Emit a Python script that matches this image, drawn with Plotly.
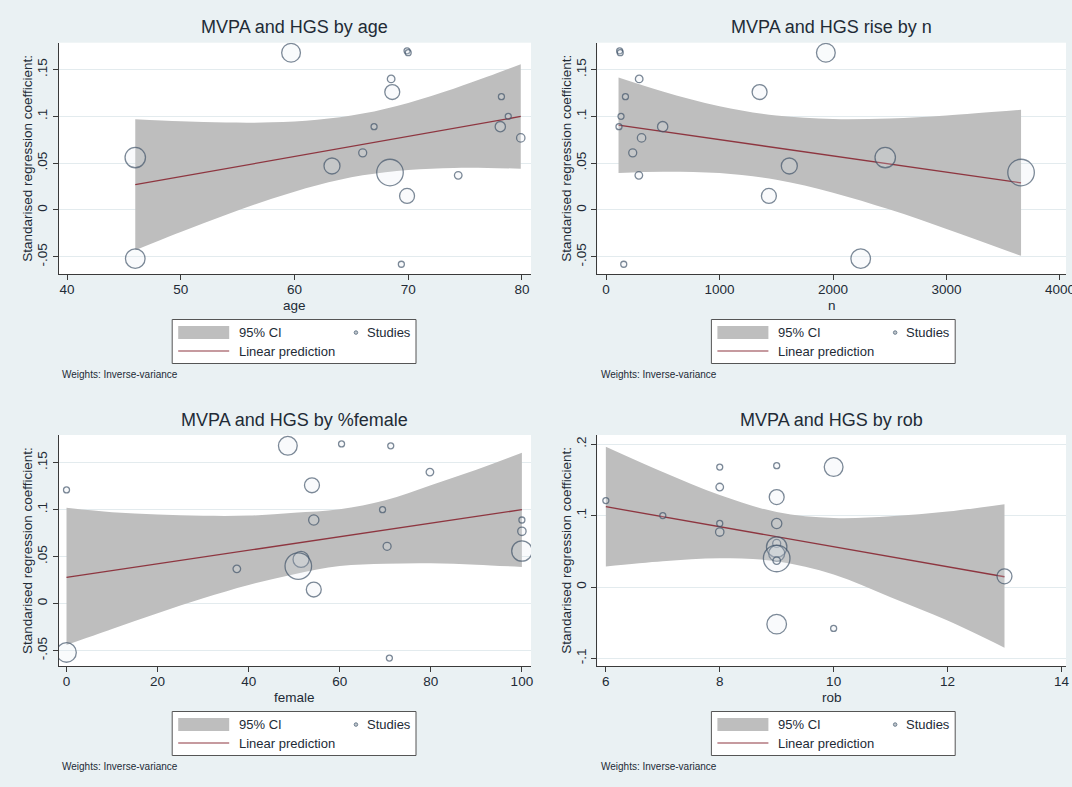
import plotly.graph_objects as go

# ---------------- data ----------------
coef   = [0.168, 0.170, 0.168, 0.140, 0.126, 0.121, 0.100, 0.089, 0.089,
          0.077, 0.061, 0.056, 0.047, 0.040, 0.037, 0.015, -0.052, -0.058]
age    = [59.7, 69.9, 70.0, 68.5, 68.6, 78.2, 78.8, 67.0, 78.1,
          79.9, 66.0, 46.0, 63.3, 68.4, 74.4, 69.9, 46.0, 69.4]
n      = [1937, 120, 125, 292, 1353, 171, 132, 114, 499,
          313, 235, 2460, 1615, 3657, 289, 1435, 2244, 156]
female = [48.6, 60.4, 71.2, 79.8, 53.9, 0, 69.4, 100, 54.3,
          100, 70.4, 100, 51.5, 50.9, 37.4, 54.3, 0, 70.9]
rob    = [10, 9, 8, 8, 9, 6, 7, 8, 9, 8, 9, 9, 9, 9, 9, 13, 9, 10]
weight = [11, 1, 1, 1.8, 7, 1, 1, 1, 3.3, 2.2, 2, 13, 8, 22, 1.8, 7, 12, 1]

# 95% CI band edges and linear prediction, read at several x positions
age_grid  = [46, 50, 54, 58, 62, 66, 70, 74, 77, 79.9]
age_upper = [0.097, 0.0948, 0.0934, 0.0936, 0.0963, 0.103, 0.1144, 0.1295, 0.1425, 0.1557]
age_lower = [-0.043, -0.0236, -0.005, 0.012, 0.0265, 0.037, 0.0428, 0.0449, 0.0449, 0.0441]
age_fit_x = [46, 79.9]
age_fit_y = [0.027, 0.0999]

n_grid  = [110, 500, 1000, 1500, 2000, 2500, 3000, 3657]
n_upper = [0.1416, 0.1267, 0.1108, 0.1008, 0.0971, 0.0978, 0.1010, 0.1070]
n_lower = [0.0396, 0.0409, 0.0394, 0.0322, 0.0185, 0.0004, -0.0202, -0.0490]
n_fit_x = [110, 3657]
n_fit_y = [0.0906, 0.029]

fem_grid  = [0, 10, 20, 30, 40, 50, 60, 70, 80, 90, 100]
fem_upper = [0.102, 0.0974, 0.095, 0.0935, 0.0937, 0.0967, 0.1005, 0.110, 0.126, 0.1425, 0.1606]
fem_lower = [-0.044, -0.027, -0.0102, 0.0057, 0.0199, 0.0313, 0.040, 0.0425, 0.043, 0.0415, 0.039]
fem_fit_x = [0, 100]
fem_fit_y = [0.028, 0.100]

rob_grid  = [6, 7, 8, 9, 10, 11, 12, 13]
rob_upper = [0.1964, 0.161, 0.1288, 0.105, 0.0965, 0.099, 0.1057, 0.116]
rob_lower = [0.0286, 0.036, 0.0402, 0.036, 0.0175, -0.0142, -0.047, -0.085]
rob_fit_x = [6, 13]
rob_fit_y = [0.1125, 0.0144]

titles = ["MVPA and HGS by age", "MVPA and HGS rise by n",
          "MVPA and HGS by %female", "MVPA and HGS by rob"]
xtitles = ["age", "n", "female", "rob"]
xticks = [[40, 50, 60, 70, 80], [0, 1000, 2000, 3000, 4000],
          [0, 20, 40, 60, 80, 100], [6, 8, 10, 12, 14]]
yticks_a = [-0.05, 0, 0.05, 0.1, 0.15]
yticks_a_text = ["-.05", "0", ".05", ".1", ".15"]
yticks_b = [-0.1, 0, 0.1, 0.2]
yticks_b_text = ["-.1", "0", ".1", ".2"]
ytitle = "Standarised regression coefficient:"
note = "Weights: Inverse-variance"
legend_labels = ["95% CI", "Studies", "Linear prediction"]

# ---------------- layout helpers ----------------
W, H = 1072, 787
def PX(px): return px / W
def PY(py): return 1 - py / H

FONT = "Liberation Sans, Arial, sans-serif"
BG = "#EAF1F3"
BAND = "#BEBEBE"
FITC = "#8E3640"
MK = "#44576C"
TXT = "#222B36"
AXC = "#3A3A3A"
GRID = "#E3EBEE"

panels = [
    dict(x=age, grid=age_grid, up=age_upper, lo=age_lower, fx=age_fit_x, fy=age_fit_y,
         box=(58.5, 531, 42.7, 274), xr=[39.25, 80.8], yr=[-0.0684, 0.1787],
         yt=yticks_a, ytt=yticks_a_text),
    dict(x=n, grid=n_grid, up=n_upper, lo=n_lower, fx=n_fit_x, fy=n_fit_y,
         box=(597.3, 1066, 42.7, 274), xr=[-77, 4053], yr=[-0.0684, 0.1787],
         yt=yticks_a, ytt=yticks_a_text),
    dict(x=female, grid=fem_grid, up=fem_upper, lo=fem_lower, fx=fem_fit_x, fy=fem_fit_y,
         box=(58.5, 531, 435, 666), xr=[-1.76, 102.0], yr=[-0.0664, 0.1795],
         yt=yticks_a, ytt=yticks_a_text),
    dict(x=rob, grid=rob_grid, up=rob_upper, lo=rob_lower, fx=rob_fit_x, fy=rob_fit_y,
         box=(597.3, 1066, 435, 666), xr=[5.85, 14.08], yr=[-0.1106, 0.2129],
         yt=yticks_b, ytt=yticks_b_text),
]

fig = go.Figure()
shapes = []
annotations = []
layout_axes = {}

for i, p in enumerate(panels):
    k = i + 1
    xa = "x" if k == 1 else f"x{k}"
    ya = "y" if k == 1 else f"y{k}"
    common = dict(xaxis=xa, yaxis=ya, showlegend=False, hoverinfo="skip")
    fig.add_trace(go.Scatter(x=p["grid"], y=p["lo"], mode="lines",
                             line=dict(width=0, shape="spline", color=BAND), **common))
    fig.add_trace(go.Scatter(x=p["grid"], y=p["up"], mode="lines", fill="tonexty",
                             fillcolor=BAND, line=dict(width=0, shape="spline", color=BAND),
                             **common))
    fig.add_trace(go.Scatter(x=p["fx"], y=p["fy"], mode="lines",
                             line=dict(color=FITC, width=1.3), **common))
    fig.add_trace(go.Scatter(x=p["x"], y=coef, mode="markers",
                             marker=dict(size=weight, sizemode="area", sizeref=1 / 16,
                                         sizemin=3, symbol="circle",
                                         color="rgba(228,236,242,0.3)",
                                         line=dict(color=MK, width=1.3)),
                             **common))

    l, r, t, b = p["box"]
    xkey = "xaxis" if k == 1 else f"xaxis{k}"
    ykey = "yaxis" if k == 1 else f"yaxis{k}"
    layout_axes[xkey] = dict(
        domain=[PX(l), PX(r)], range=p["xr"], anchor=ya, showgrid=False, zeroline=False,
        showline=True, linecolor=AXC, linewidth=1, ticks="outside", ticklen=5,
        tickcolor=AXC, tickwidth=1, tickvals=xticks[i], automargin=False,
        ticklabeloverflow="allow", ticklabelstandoff=-2,
        tickfont=dict(family=FONT, size=13.5, color=TXT))
    layout_axes[ykey] = dict(
        domain=[PY(b), PY(t)], range=p["yr"], anchor=xa, showgrid=True, gridcolor=GRID,
        gridwidth=1, zeroline=False, showline=True, linecolor=AXC, linewidth=1,
        ticks="outside", ticklen=5, tickcolor=AXC, tickwidth=1,
        tickvals=p["yt"], ticktext=p["ytt"], tickangle=-90, automargin=False,
        tickfont=dict(family=FONT, size=13.5, color=TXT))

    cx = (l + r) / 2
    cy = (t + b) / 2
    # panel title
    annotations.append(dict(text=titles[i], x=PX(cx), y=PY(t - 15.5), xref="paper", yref="paper",
                            showarrow=False, xanchor="center", yanchor="middle",
                            font=dict(family=FONT, size=18, color=TXT)))
    # y-axis title
    annotations.append(dict(text=ytitle, x=PX(l - 31), y=PY(cy), xref="paper", yref="paper",
                            showarrow=False, textangle=-90, xanchor="center", yanchor="middle",
                            font=dict(family=FONT, size=13.5, color=TXT)))
    # x-axis title
    annotations.append(dict(text=xtitles[i], x=PX(cx), y=PY(b + 31), xref="paper", yref="paper",
                            showarrow=False, xanchor="center", yanchor="middle",
                            font=dict(family=FONT, size=13.5, color=TXT)))

    # legend box
    bl = 172.2 if k in (1, 3) else 711.4
    bt = b + 45.5
    bw, bh = 243.8, 44
    shapes.append(dict(type="rect", xref="paper", yref="paper",
                       x0=PX(bl), x1=PX(bl + bw), y0=PY(bt + bh), y1=PY(bt),
                       fillcolor="white", line=dict(color="#555555", width=1)))
    shapes.append(dict(type="rect", xref="paper", yref="paper",
                       x0=PX(bl + 6), x1=PX(bl + 57), y0=PY(bt + 19.5), y1=PY(bt + 6.5),
                       fillcolor=BAND, line=dict(width=0)))
    shapes.append(dict(type="line", xref="paper", yref="paper",
                       x0=PX(bl + 6), x1=PX(bl + 57), y0=PY(bt + 31.5), y1=PY(bt + 31.5),
                       line=dict(color=FITC, width=1.2)))
    shapes.append(dict(type="circle", xref="paper", yref="paper",
                       x0=PX(bl + 182), x1=PX(bl + 185.5), y0=PY(bt + 14.8), y1=PY(bt + 11.3),
                       fillcolor="rgba(150,160,170,0.6)", line=dict(color="#6A7B8C", width=1)))
    annotations.append(dict(text=legend_labels[0], x=PX(bl + 65), y=PY(bt + 13), xref="paper",
                            yref="paper", showarrow=False, xanchor="left", yanchor="middle",
                            font=dict(family=FONT, size=13, color=TXT)))
    annotations.append(dict(text=legend_labels[1], x=PX(bl + bw - 3), y=PY(bt + 13), xref="paper",
                            yref="paper", showarrow=False, xanchor="right", yanchor="middle",
                            font=dict(family=FONT, size=13, color=TXT)))
    annotations.append(dict(text=legend_labels[2], x=PX(bl + 65), y=PY(bt + 31.5), xref="paper",
                            yref="paper", showarrow=False, xanchor="left", yanchor="middle",
                            font=dict(family=FONT, size=13, color=TXT)))
    # note
    annotations.append(dict(text=note, x=PX(l + 1.5), y=PY(b + 100.5), xref="paper",
                            yref="paper", showarrow=False, xanchor="left", yanchor="middle",
                            font=dict(family=FONT, size=10, color=TXT)))

fig.update_layout(
    width=W, height=H, margin=dict(l=0, r=0, t=0, b=0),
    paper_bgcolor=BG, plot_bgcolor="white", template="none",
    font=dict(family=FONT, color=TXT), showlegend=False,
    shapes=shapes, annotations=annotations, **layout_axes)

fig.write_html("out.html")
